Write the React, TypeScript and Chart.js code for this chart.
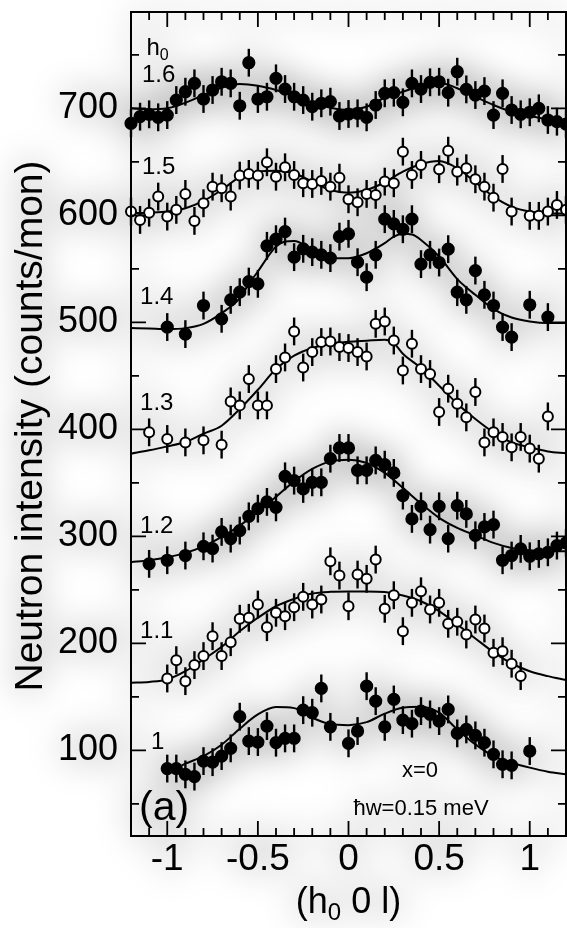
import React, { useEffect, useRef } from 'react';
import { Chart, registerables } from 'chart.js';

Chart.register(...registerables);

const FONT = '"Liberation Sans", Arial, Helvetica, sans-serif';
const W = 567;
const H = 928;

// Axis ticks
const xTickValues = [-1, -0.5, 0, 0.5, 1];
const xTickLabels = ['-1', '-0.5', '0', '0.5', '1'];
const yTickValues = [100, 200, 300, 400, 500, 600, 700];
const yTickLabels = ['100', '200', '300', '400', '500', '600', '700'];

// Scans at fixed h0, stacked (counts/mon, offset per scan)
const h0Labels = ['1', '1.1', '1.2', '1.3', '1.4', '1.5', '1.6'];
const h0Filled = [true, false, true, false, true, false, true];
const errorHalf = 13;

const l_h10 = [-1.0, -0.95, -0.9, -0.85, -0.8, -0.75, -0.7, -0.65, -0.6, -0.55, -0.5, -0.45, -0.4, -0.35, -0.3, -0.25, -0.2, -0.15, -0.1, 0, 0.05, 0.1, 0.15, 0.2, 0.25, 0.3, 0.35, 0.4, 0.45, 0.5, 0.55, 0.6, 0.65, 0.7, 0.75, 0.8, 0.85, 0.9, 1.0];
const I_h10 = [83, 83, 77.6, 75.5, 90, 89, 94.7, 101.9, 131.5, 108.7, 107.8, 122.7, 107.2, 111.2, 111.2, 137.6, 135.2, 157.9, 122, 106.6, 118.1, 160, 146, 122, 147.6, 128.3, 125, 136.7, 133.6, 127.4, 138.3, 115.9, 119.6, 114, 107.2, 96.3, 87, 86, 99.4];

const l_h11 = [-1.0, -0.95, -0.9, -0.85, -0.8, -0.75, -0.7, -0.65, -0.6, -0.55, -0.5, -0.45, -0.4, -0.35, -0.3, -0.25, -0.2, -0.15, -0.1, -0.05, 0, 0.05, 0.1, 0.15, 0.2, 0.25, 0.3, 0.35, 0.4, 0.45, 0.5, 0.55, 0.6, 0.65, 0.7, 0.75, 0.8, 0.85, 0.9, 0.95];
const I_h11 = [167.2, 184.3, 164.7, 179.7, 188.1, 206.7, 188.1, 201.1, 223, 223.9, 236.3, 215.1, 228.6, 225.4, 233.8, 243.5, 236.3, 241, 276.7, 263.4, 234.7, 264.3, 260.3, 278.3, 232.3, 245, 211.4, 237.9, 248.7, 231.7, 237.9, 218.3, 220.2, 208.3, 222.3, 213.9, 191.2, 192.7, 181, 169.4];

const l_h12 = [-1.1, -1.0, -0.9, -0.8, -0.75, -0.7, -0.65, -0.6, -0.55, -0.5, -0.45, -0.4, -0.35, -0.3, -0.25, -0.2, -0.15, -0.1, -0.05, 0, 0.05, 0.1, 0.15, 0.2, 0.25, 0.3, 0.35, 0.4, 0.45, 0.5, 0.55, 0.6, 0.65, 0.7, 0.75, 0.8, 0.85, 0.9, 0.95, 1.0, 1.05, 1.1, 1.15, 1.2];
const I_h12 = [274.3, 277.7, 282.1, 290.7, 288.6, 304.2, 297.9, 305.4, 318.7, 325.9, 332.2, 327.1, 356.1, 352.1, 344.3, 350.5, 350.5, 372.6, 382.6, 382.6, 361.7, 361.7, 371, 367, 359.3, 338.1, 316.3, 328.1, 306.3, 328.1, 297.9, 328.7, 321, 301, 308.8, 311, 277.7, 282.1, 288.3, 281.4, 283.6, 285.1, 291.4, 293.9];

const l_h13 = [-1.1, -1.0, -0.9, -0.8, -0.7, -0.65, -0.6, -0.55, -0.5, -0.45, -0.4, -0.35, -0.3, -0.25, -0.2, -0.15, -0.1, -0.05, 0, 0.05, 0.1, 0.15, 0.2, 0.25, 0.3, 0.35, 0.4, 0.45, 0.5, 0.55, 0.6, 0.65, 0.7, 0.75, 0.8, 0.85, 0.9, 0.95, 1.0, 1.05, 1.1];
const I_h13 = [397.2, 391, 387.8, 389.7, 385.7, 426.1, 422.4, 447, 422.4, 422.4, 456.3, 467.2, 491.5, 457.8, 472.2, 481.6, 482.1, 476.9, 476, 472.2, 468.1, 498.6, 500.8, 483, 455, 480, 456.3, 451.7, 416.2, 438, 424, 411.2, 434.9, 387.8, 397.2, 392.9, 383.2, 392.9, 382, 372.6, 412.1];

const l_h14 = [-1.0, -0.9, -0.8, -0.7, -0.65, -0.6, -0.55, -0.5, -0.45, -0.4, -0.35, -0.3, -0.25, -0.2, -0.15, -0.1, -0.05, 0, 0.05, 0.1, 0.15, 0.2, 0.25, 0.3, 0.35, 0.4, 0.45, 0.5, 0.55, 0.6, 0.65, 0.7, 0.75, 0.8, 0.85, 0.9, 1.0, 1.1];
const I_h14 = [495.6, 489, 515.7, 503.3, 521, 528.2, 538.1, 536, 571.5, 577.7, 584.8, 560.9, 568.7, 565.6, 563.1, 560, 580.1, 582.7, 556.2, 542.2, 563.1, 596.4, 592, 587, 596.4, 554.4, 563.1, 555.9, 568.4, 528.2, 521, 548.4, 525.7, 515.7, 495.6, 486.2, 516.4, 504.9];

const l_h15 = [-1.2, -1.15, -1.1, -1.05, -1.0, -0.95, -0.9, -0.85, -0.8, -0.75, -0.7, -0.65, -0.6, -0.55, -0.5, -0.45, -0.4, -0.35, -0.3, -0.25, -0.2, -0.15, -0.1, -0.05, 0, 0.05, 0.1, 0.15, 0.2, 0.25, 0.3, 0.35, 0.4, 0.5, 0.55, 0.6, 0.65, 0.7, 0.75, 0.8, 0.85, 0.9, 1.0, 1.05, 1.1, 1.15, 1.2];
const I_h15 = [603.5, 595.7, 602.5, 617.5, 598.8, 605.1, 620, 594.8, 611.3, 626.8, 625.3, 617.5, 637.1, 638.7, 637.1, 649.6, 636.1, 644.9, 637.7, 630, 629.3, 632.1, 626.8, 635.2, 615, 612.2, 620, 619.1, 631.5, 630, 659.5, 637.7, 647.1, 643.1, 660.4, 640.8, 644, 633.7, 626.8, 616.5, 643.3, 603.5, 599.5, 599.5, 603.5, 609.7, 605.1];

const l_h16 = [-1.2, -1.15, -1.1, -1.05, -1.0, -0.95, -0.9, -0.85, -0.8, -0.75, -0.7, -0.65, -0.6, -0.55, -0.5, -0.45, -0.4, -0.35, -0.3, -0.25, -0.2, -0.15, -0.1, -0.05, 0, 0.05, 0.1, 0.15, 0.2, 0.25, 0.3, 0.35, 0.4, 0.45, 0.5, 0.55, 0.6, 0.65, 0.7, 0.75, 0.8, 0.85, 0.9, 0.95, 1.0, 1.05, 1.1, 1.15, 1.2];
const I_h16 = [686, 692.2, 694.4, 691.6, 693.7, 707.7, 715.5, 723.3, 708.7, 717.1, 724.8, 723.3, 702.4, 742.6, 708.7, 710.8, 728, 718, 710.8, 707.7, 701.5, 704.7, 706.2, 692.8, 694.7, 695.3, 691.6, 703.1, 714, 714.6, 705.6, 723.3, 718, 724.3, 724.8, 714.6, 734.2, 717.7, 712.4, 716.1, 693.7, 714, 698.4, 694.4, 696.3, 700, 689.1, 687.5, 685.3];

// Fitted model curves, sampled along l
const fitGrid = [-1.2, -1.1, -1.0, -0.9, -0.8, -0.7, -0.6, -0.5, -0.4, -0.3, -0.2, -0.1, 0, 0.1, 0.2, 0.3, 0.4, 0.5, 0.6, 0.7, 0.8, 0.9, 1.0, 1.1, 1.2];

const fitL_h10 = [-0.92, -0.9, -0.8, -0.7, -0.6, -0.5, -0.4, -0.3, -0.2, -0.1, 0, 0.1, 0.2, 0.3, 0.4, 0.5, 0.6, 0.7, 0.8, 0.9, 1.0, 1.1, 1.2];
const fitI_h10 = [86, 87.6, 94.7, 105.3, 120.3, 133.6, 140.5, 139.5, 130.5, 124.6, 123.6, 126.4, 134.3, 139.9, 140.7, 135.2, 119.6, 105.6, 94.7, 88.5, 83.9, 80.1, 77.6];

const fitI_h11 = [163.2, 164, 166.3, 174, 185, 196.8, 211.4, 223.9, 234.7, 241.6, 246.6, 248.2, 248.5, 248.5, 248, 244.7, 239.4, 230.1, 217.6, 204.6, 191.8, 181.2, 174, 169.4, 165.7];

const fitI_h12 = [275.8, 277.7, 280.5, 284.6, 290.7, 299.5, 310.1, 322.9, 336.9, 351.4, 363, 370.1, 371.7, 368.6, 359.3, 345.3, 330.6, 317.3, 307.9, 301, 293.9, 289.2, 287, 286, 286];

const fitL_h13 = [-1.2, -1.1, -1.0, -0.9, -0.8, -0.7, -0.6, -0.5, -0.4, -0.3, -0.2, -0.1, 0, 0.1, 0.2, 0.25, 0.3, 0.4, 0.5, 0.6, 0.7, 0.8, 0.9, 1.0, 1.1, 1.2];
const fitI_h13 = [377.3, 380.4, 384.1, 388.2, 396, 403.4, 419, 437, 456.3, 468.8, 476, 480, 481.8, 482.8, 483.7, 480.6, 470.6, 457.3, 440.8, 424, 409.7, 397.2, 387.8, 383.2, 379.4, 377.6];

const fitL_h14 = [-1.2, -1.1, -1.0, -0.9, -0.8, -0.7, -0.6, -0.55, -0.5, -0.45, -0.4, -0.35, -0.3, -0.2, -0.1, 0, 0.1, 0.2, 0.25, 0.3, 0.35, 0.4, 0.5, 0.6, 0.65, 0.7, 0.8, 0.9, 1.0, 1.1, 1.2];
const fitI_h14 = [494.6, 494.2, 493.7, 494.6, 498.6, 508.6, 522.6, 536, 547.5, 560, 570.8, 575.5, 576.1, 567.7, 560, 560, 564.6, 574, 580.1, 582.7, 582, 577, 561.5, 540.4, 532.5, 525.7, 512.4, 504.5, 500.8, 499.3, 499.3];

const fitI_h15 = [602, 602.5, 603.5, 606.6, 613.5, 623.7, 635.6, 640.8, 641.7, 639.3, 631.5, 623.7, 621.2, 623.7, 630.9, 640.8, 648, 650.8, 644, 630.9, 617.5, 608.1, 603.5, 602, 601.5];

const fitI_h16 = [700, 699, 700, 705.2, 712.4, 719.2, 722.7, 721.1, 717.1, 711.5, 705.2, 700.6, 698.5, 701.5, 709.9, 715.5, 720.8, 723.9, 718.7, 710.8, 703.1, 696.8, 692.8, 689.7, 688.1];

const scans = [
  { l: l_h10, I: I_h10, fitL: fitL_h10, fitI: fitI_h10 },
  { l: l_h11, I: I_h11, fitL: fitGrid, fitI: fitI_h11 },
  { l: l_h12, I: I_h12, fitL: fitGrid, fitI: fitI_h12 },
  { l: l_h13, I: I_h13, fitL: fitL_h13, fitI: fitI_h13 },
  { l: l_h14, I: I_h14, fitL: fitL_h14, fitI: fitI_h14 },
  { l: l_h15, I: I_h15, fitL: fitGrid, fitI: fitI_h15 },
  { l: l_h16, I: I_h16, fitL: fitGrid, fitI: fitI_h16 },
];

// Where each h0 tag sits (data coordinates: left edge, vertical middle)
const tagAnchors = [
  [-1.09, 107.5],
  [-1.15, 211],
  [-1.15, 309],
  [-1.15, 424],
  [-1.15, 523],
  [-1.14, 645],
  [-1.14, 731],
];
const headerAnchor = [-1.115, 756];

function drawSubscripted(ctx: CanvasRenderingContext2D, parts: [string, boolean][], x: number, y: number, size: number, align: 'left' | 'center') {
  const subSize = Math.round(size * 0.66);
  let total = 0;
  parts.forEach(([t, sub]) => {
    ctx.font = `${sub ? subSize : size}px ${FONT}`;
    total += ctx.measureText(t).width;
  });
  let cx = align === 'center' ? x - total / 2 : x;
  ctx.textAlign = 'left';
  parts.forEach(([t, sub]) => {
    ctx.font = `${sub ? subSize : size}px ${FONT}`;
    ctx.textBaseline = 'middle';
    ctx.fillText(t, cx, sub ? y + size * 0.3 : y);
    cx += ctx.measureText(t).width;
  });
}

const decorPlugin = {
  id: 'decor',
  beforeDatasetsDraw(chart: any) {
    const { ctx } = chart;
    const xs = chart.scales.x;
    const ys = chart.scales.y;
    ctx.save();
    ctx.strokeStyle = '#000';
    ctx.lineWidth = 2.4;
    scans.forEach((s) => {
      s.l.forEach((l, j) => {
        const px = xs.getPixelForValue(l);
        ctx.beginPath();
        ctx.moveTo(px, ys.getPixelForValue(s.I[j] - errorHalf));
        ctx.lineTo(px, ys.getPixelForValue(s.I[j] + errorHalf));
        ctx.stroke();
      });
    });
    ctx.restore();
  },
  afterDraw(chart: any) {
    const { ctx, chartArea: a } = chart;
    const xs = chart.scales.x;
    const ys = chart.scales.y;
    ctx.save();
    ctx.strokeStyle = '#000';
    ctx.fillStyle = '#000';
    ctx.lineWidth = 2;
    ctx.strokeRect(a.left, a.top, a.right - a.left, a.bottom - a.top);

    // inward tick marks on all four sides
    ctx.lineWidth = 1.8;
    for (let i = -11; i <= 11; i++) {
      const v = i / 10;
      const len = i % 5 === 0 ? 15 : 8;
      const px = xs.getPixelForValue(v);
      ctx.beginPath();
      ctx.moveTo(px, a.bottom);
      ctx.lineTo(px, a.bottom - len);
      ctx.moveTo(px, a.top);
      ctx.lineTo(px, a.top + len);
      ctx.stroke();
    }
    for (let v = 50; v <= 750; v += 50) {
      const len = v % 100 === 0 ? 15 : 8;
      const py = ys.getPixelForValue(v);
      ctx.beginPath();
      ctx.moveTo(a.left, py);
      ctx.lineTo(a.left + len, py);
      ctx.moveTo(a.right, py);
      ctx.lineTo(a.right - len, py);
      ctx.stroke();
    }

    // axis titles
    ctx.save();
    ctx.translate(31, 426);
    ctx.rotate(-Math.PI / 2);
    ctx.font = `39px ${FONT}`;
    ctx.textAlign = 'center';
    ctx.textBaseline = 'middle';
    ctx.fillText('Neutron intensity (counts/mon)', 0, 0);
    ctx.restore();

    drawSubscripted(ctx, [['(h', false], ['0', true], [' 0 l)', false]], xs.getPixelForValue(0), 903, 36, 'center');

    // h0 tags
    drawSubscripted(ctx, [['h', false], ['0', true]], xs.getPixelForValue(headerAnchor[0]), ys.getPixelForValue(headerAnchor[1]), 24, 'left');
    h0Labels.forEach((t, i) => {
      ctx.font = `24px ${FONT}`;
      ctx.textAlign = 'left';
      ctx.textBaseline = 'middle';
      ctx.fillText(t, xs.getPixelForValue(tagAnchors[i][0]), ys.getPixelForValue(tagAnchors[i][1]));
    });

    // annotations
    ctx.font = `22px ${FONT}`;
    ctx.textAlign = 'center';
    ctx.textBaseline = 'middle';
    ctx.fillText('x=0', 420, 771);
    ctx.fillText('\u0127w=0.15 meV', 421, 809);
    ctx.font = `41px ${FONT}`;
    ctx.textAlign = 'left';
    ctx.fillText('(a)', 139, 809);
    ctx.restore();
  },
};

function buildConfig(): any {
  const datasets: any[] = [];
  scans.forEach((s, i) => {
    datasets.push({
      type: 'scatter',
      label: `h0=${h0Labels[i]}`,
      data: s.l.map((l, j) => ({ x: l, y: s.I[j] })),
      pointRadius: h0Filled[i] ? 5.6 : 5,
      pointBackgroundColor: h0Filled[i] ? '#000' : '#fff',
      pointBorderColor: '#000',
      pointBorderWidth: 2,
      showLine: false,
      clip: false,
      order: 0,
    });
  });
  scans.forEach((s, i) => {
    datasets.push({
      type: 'line',
      label: `fit h0=${h0Labels[i]}`,
      data: s.fitL.map((l, j) => ({ x: l, y: s.fitI[j] })),
      borderColor: '#000',
      borderWidth: 2,
      pointRadius: 0,
      fill: false,
      cubicInterpolationMode: 'monotone',
      order: 1,
    });
  });

  return {
    type: 'scatter',
    data: { datasets },
    options: {
      responsive: false,
      animation: false,
      devicePixelRatio: 1,
      layout: { autoPadding: false, padding: { top: 12, right: 1, left: 0, bottom: 0 } },
      plugins: { legend: { display: false }, tooltip: { enabled: false } },
      scales: {
        x: {
          type: 'linear',
          min: -1.2,
          max: 1.2,
          afterBuildTicks: (s: any) => {
            s.ticks = xTickValues.map((v) => ({ value: v }));
          },
          afterFit: (s: any) => {
            s.height = H - 836;
            s.paddingLeft = 0;
            s.paddingRight = 0;
          },
          ticks: {
            autoSkip: false,
            maxRotation: 0,
            padding: 2,
            color: '#000',
            font: { size: 37, family: FONT },
            callback: (_v: any, i: number) => xTickLabels[i],
          },
          grid: { display: false, drawTicks: false },
          border: { display: false },
        },
        y: {
          type: 'linear',
          min: 20,
          max: 790,
          afterBuildTicks: (s: any) => {
            s.ticks = yTickValues.map((v) => ({ value: v }));
          },
          afterFit: (s: any) => {
            s.width = 131;
            s.paddingTop = 0;
            s.paddingBottom = 0;
          },
          ticks: {
            autoSkip: false,
            padding: 13,
            color: '#000',
            font: { size: 36, family: FONT },
            callback: (_v: any, i: number) => yTickLabels[i],
          },
          grid: { display: false, drawTicks: false },
          border: { display: false },
        },
      },
    },
    plugins: [decorPlugin],
  };
}

function ChartLayer({ haze }: { haze: boolean }) {
  const ref = useRef<HTMLCanvasElement | null>(null);
  useEffect(() => {
    if (!ref.current) return;
    const chart = new Chart(ref.current, buildConfig());
    return () => chart.destroy();
  }, []);
  return (
    <canvas
      ref={ref}
      width={W}
      height={H}
      style={{
        position: 'absolute',
        left: 0,
        top: 0,
        width: W,
        height: H,
        filter: haze ? 'blur(18px)' : undefined,
        opacity: haze ? 0.55 : 1,
      }}
    />
  );
}

export default function App() {
  return (
    <div style={{ position: 'absolute', left: 0, top: 0, width: W, height: H, background: '#fff', overflow: 'hidden' }}>
      <ChartLayer haze={true} />
      <ChartLayer haze={false} />
    </div>
  );
}
